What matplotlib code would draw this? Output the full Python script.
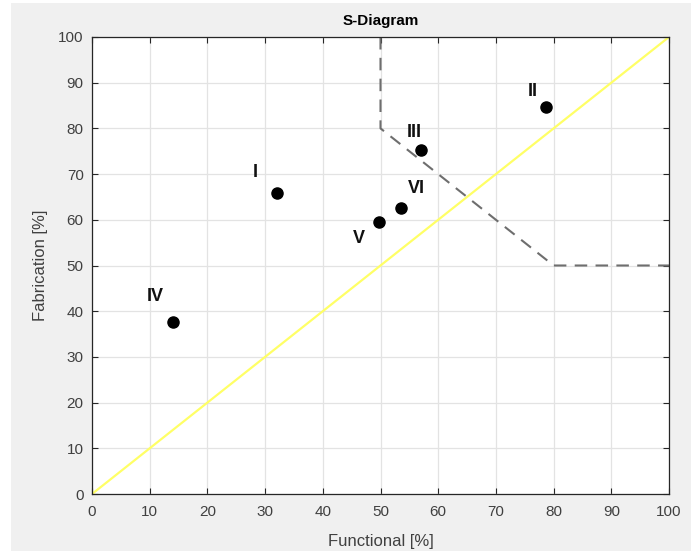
import matplotlib
matplotlib.use("Agg")
import matplotlib.pyplot as plt
from matplotlib.patches import Rectangle

plt.rcParams['font.family'] = ['Liberation Sans', 'DejaVu Sans']

# Data
labels = ["I", "II", "III", "IV", "V", "VI"]
functional = [32.0, 78.7, 57.1, 14.0, 49.8, 53.5]
fabrication = [65.8, 84.6, 75.2, 37.6, 59.5, 62.6]
label_x = [28.3, 76.3, 55.8, 10.9, 46.3, 56.2]
label_y = [70.3, 88.0, 79.2, 43.3, 56.0, 66.8]

diag_x = [0, 100]
diag_y = [0, 100]
bound_x = [50, 50, 80, 100]
bound_y = [100, 80, 50, 50]

xticks = list(range(0, 101, 10))
yticks = list(range(0, 101, 10))

fig = plt.figure(figsize=(7.0, 5.54), dpi=100, facecolor='white')
fig.patches.append(Rectangle((11 / 700, 3 / 554), 680 / 700, 548 / 554,
                             transform=fig.transFigure, facecolor='#f0f0f0',
                             edgecolor='none', zorder=-10))
ax = fig.add_axes([92 / 700, (554 - 494) / 554, 577 / 700, 457 / 554])
ax.set_facecolor('white')

ax.plot(diag_x, diag_y, color='#ffff66', lw=1.6, zorder=2)
ax.plot(bound_x, bound_y, color='#6e6e6e', lw=1.5, ls=(0, (6, 4)), zorder=2)
ax.plot(functional, fabrication, 'o', color='black', ms=8, zorder=3)
for t, x, y in zip(labels, label_x, label_y):
    ax.text(x, y, t, fontsize=13, fontweight='bold', ha='center',
            va='center', color='#111111', zorder=4)

ax.set_xlim(0, 100)
ax.set_ylim(0, 100)
ax.set_xticks(xticks)
ax.set_yticks(yticks)
ax.grid(True, color='#e3e3e3', lw=0.9)
ax.set_axisbelow(True)
ax.tick_params(direction='in', top=True, right=True, length=4,
               color='#262626', labelcolor='#404040', labelsize=11)
ax.tick_params(axis='x', pad=8)
ax.tick_params(axis='y', pad=6)
for s in ax.spines.values():
    s.set_color('#262626')
    s.set_linewidth(0.9)

ax.set_title('S-Diagram', fontsize=11, fontweight='bold', color='black', pad=9)
ax.set_xlabel('Functional [%]', fontsize=12, color='#404040', labelpad=11)
ax.set_ylabel('Fabrication [%]', fontsize=12, color='#404040', labelpad=7)

fig.savefig('out.png', dpi=100, facecolor=fig.get_facecolor())
